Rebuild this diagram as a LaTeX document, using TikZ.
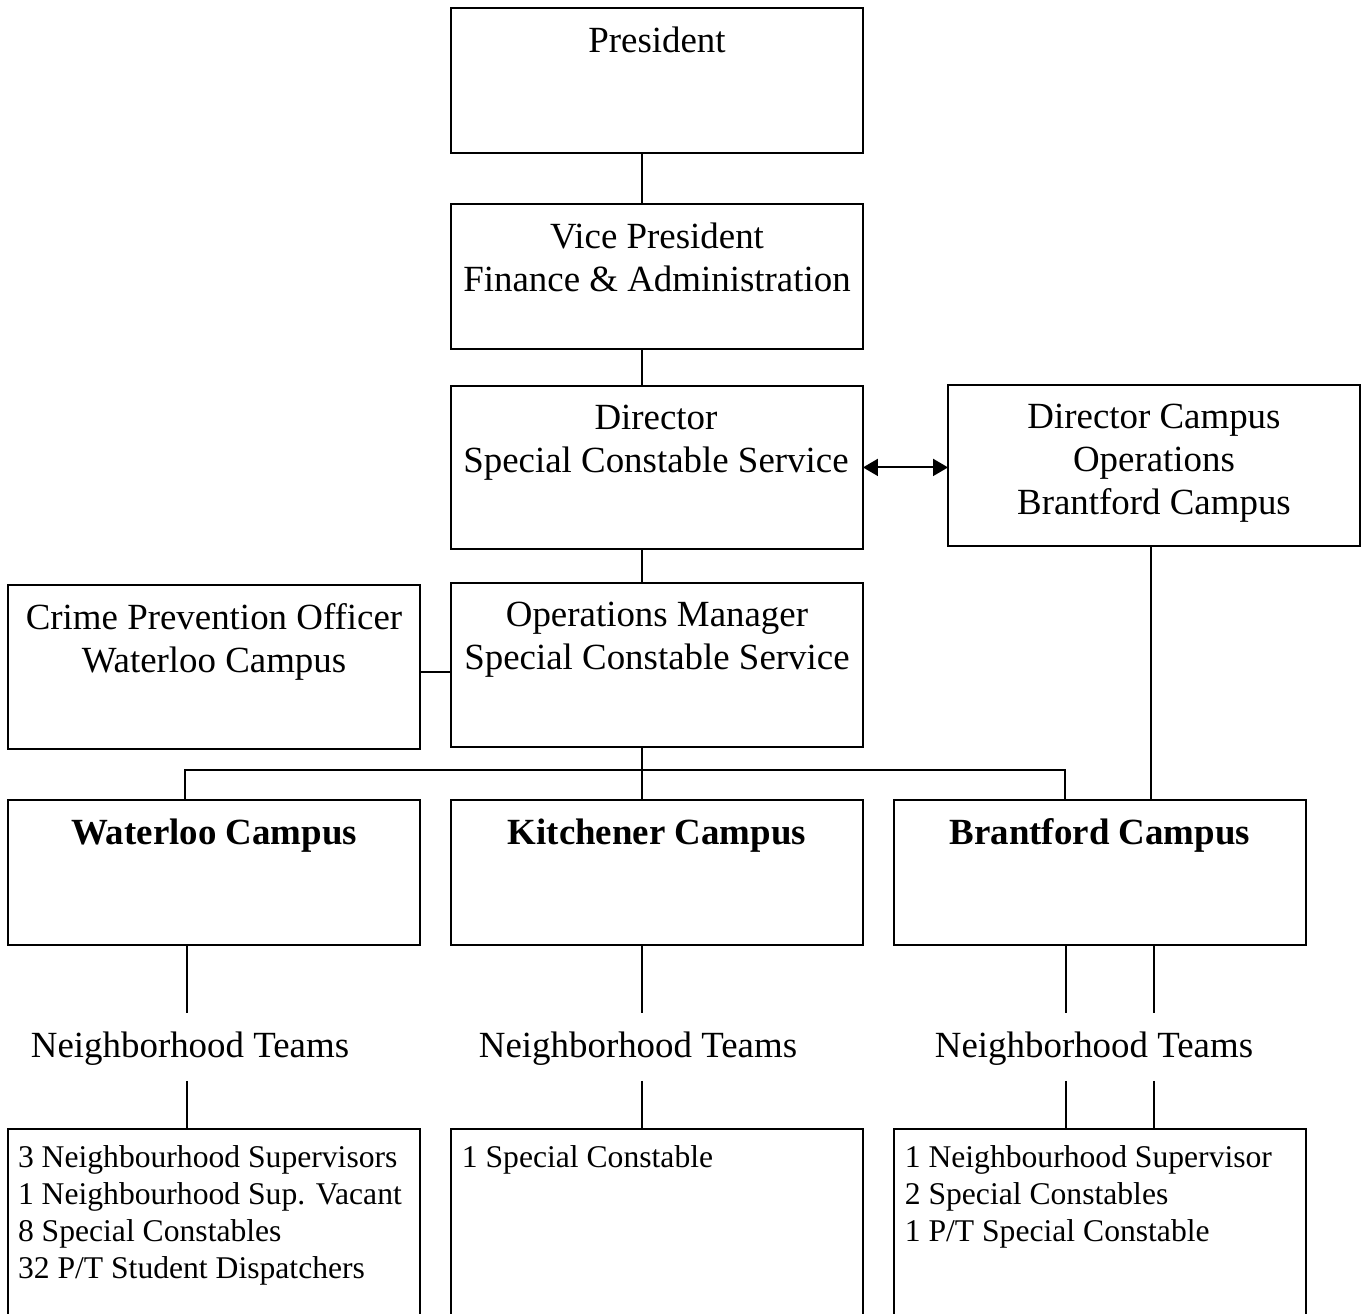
\documentclass[tikz,border=0pt]{standalone}
\usepackage{fontspec}
\setmainfont{Liberation Serif}
\usetikzlibrary{positioning,calc,arrows.meta}

\tikzset{
    box/.style={draw,outer sep=0pt,inner sep=0pt,minimum width=8.24cm},
    heading/.style={anchor=north,align=center,inner sep=0pt,font=\fontsize{21}{24.4}\selectfont},
    campus/.style={heading,font=\fontsize{21}{24.4}\selectfont\bfseries},
    teams/.style={inner sep=0pt,minimum height=1.26cm,font=\fontsize{21}{24.4}\selectfont},
    staff/.style={anchor=north west,align=left,inner sep=0pt,font=\fontsize{18}{21}\selectfont},
}

\begin{document}
\begin{tikzpicture}[x=0.02cm,y=-0.02cm,line width=1.1pt]
    \useasboundingbox (0,0) rectangle (1370,1314);

    \node[box,minimum height=2.9cm] (pres) at (657,80.5) {};
    \node[box,minimum height=2.9cm,below=1.02cm of pres] (vp) {};
    \node[box,minimum height=3.26cm,below=0.74cm of vp] (dir) {};
    \node[box,minimum height=3.28cm,below=0.68cm of dir] (ops) {};
    \node[box,minimum height=3.22cm] (dco) at (1154,465.5) {};
    \node[box,minimum height=3.28cm] (cpo) at (214,667) {};

    \node[box,minimum height=2.9cm] (wat) at (214,872.5) {};
    \node[box,minimum height=2.9cm,right=0.62cm of wat] (kit) {};
    \node[box,minimum height=2.9cm,right=0.62cm of kit] (bfd) {};

    \node[box,minimum height=4.22cm,below=3.68cm of wat] (wlist) {};
    \node[box,minimum height=4.22cm,below=3.68cm of kit] (klist) {};
    \node[box,minimum height=4.22cm,below=3.68cm of bfd] (blist) {};

    \node[heading] (pres-t) at ($(pres.north)+(0,18)$) {President};
    \node[heading] (vp-t) at ($(vp.north)+(0,18)$) {Vice President\\Finance \& Administration};
    \node[heading] (dir-t) at ($(dir.north)+(-1,18)$) {Director\\Special Constable Service};
    \node[heading] (ops-t) at ($(ops.north)+(0,18)$) {Operations Manager\\Special Constable Service};
    \node[heading] (dco-t) at ($(dco.north)+(0,18)$) {Director Campus\\Operations\\Brantford Campus};
    \node[heading] (cpo-t) at ($(cpo.north)+(0,18)$) {Crime Prevention Officer\\Waterloo Campus};

    \node[campus] (wat-t) at ($(wat.north)+(0,18)$) {Waterloo Campus};
    \node[campus] (kit-t) at ($(kit.north)+(0,18)$) {Kitchener Campus};
    \node[campus] (bfd-t) at ($(bfd.north)+(0,18)$) {Brantford Campus};

    \node[teams] (wteams) at (190,1048.5) {Neighborhood Teams};
    \node[teams] (kteams) at (638,1048.5) {Neighborhood Teams};
    \node[teams] (bteams) at (1094,1048.5) {Neighborhood Teams};

    \node[staff] (wlist-t) at ($(wlist.north west)+(9,16)$) {3 Neighbourhood Supervisors\\1 Neighbourhood Sup. Vacant\\8 Special Constables\\32 P/T Student Dispatchers};
    \node[staff] (klist-t) at ($(klist.north west)+(10,16)$) {1 Special Constable};
    \node[staff] (blist-t) at ($(blist.north west)+(10,16)$) {1 Neighbourhood Supervisor\\2 Special Constables\\1 P/T Special Constable};

    \coordinate (bus) at (642,770);
    \coordinate (wtap) at (185,770);
    \coordinate (btap) at (1065,770);
    \coordinate (dtap) at (1151,0);
    \coordinate (cpolink) at ($(ops.west)+(0,7)$);
    \coordinate (wcol) at (187,0);
    \coordinate (bcol1) at (1066,0);
    \coordinate (bcol2) at (1154,0);

    \draw (pres.south -| bus) -- (vp.north -| bus);
    \draw (vp.south -| bus) -- (dir.north -| bus);
    \draw (dir.south -| bus) -- (ops.north -| bus);
    \draw[{Triangle[length=0.3cm,width=0.34cm]}-{Triangle[length=0.3cm,width=0.34cm]}] (dir.east) -- (dir.east -| dco.west);
    \draw (cpolink) -- (cpolink -| cpo.east);
    \draw (ops.south -| bus) -- (kit.north -| bus);
    \draw (wat.north -| wtap) -- (wtap) -- (btap) -- (bfd.north -| btap);
    \draw (dco.south -| dtap) -- (bfd.north -| dtap);

    \draw (wat.south -| wcol) -- ($(wteams.north -| wcol)+(0,-3)$);
    \draw (wteams.south -| wcol) -- (wlist.north -| wcol);
    \draw (kit.south -| bus) -- ($(kteams.north -| bus)+(0,-3)$);
    \draw (kteams.south -| bus) -- (klist.north -| bus);
    \draw (bfd.south -| bcol1) -- ($(bteams.north -| bcol1)+(0,-3)$);
    \draw (bteams.south -| bcol1) -- (blist.north -| bcol1);
    \draw (bfd.south -| bcol2) -- ($(bteams.north -| bcol2)+(0,-3)$);
    \draw (bteams.south -| bcol2) -- (blist.north -| bcol2);
\end{tikzpicture}
\end{document}
